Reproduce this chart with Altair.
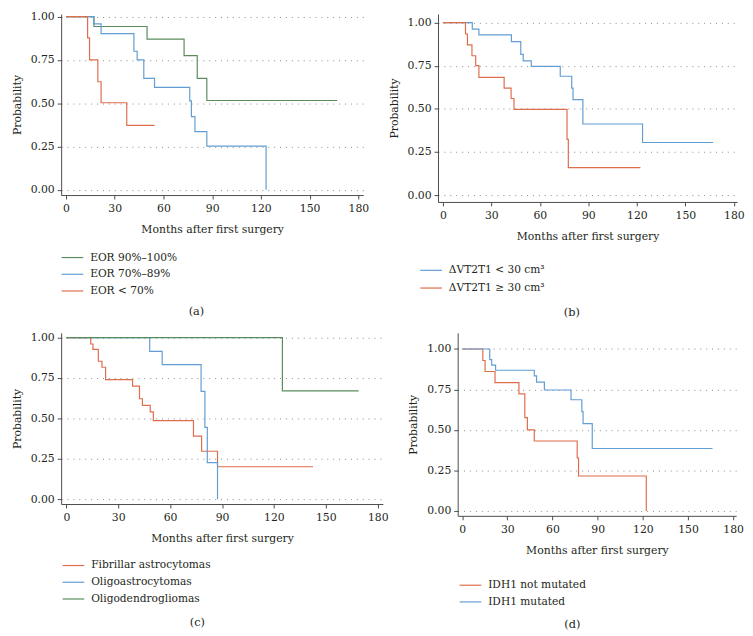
import altair as alt
import pandas as pd

FONT = "DejaVu Serif"
GREEN = "#5a8c5c"
BLUE = "#629dd3"
ORANGE = "#de6d4c"

X_TICKS = [0, 30, 60, 90, 120, 150, 180]
Y_TICKS = [0, 0.25, 0.5, 0.75, 1.0]

# ---- Panel (a): extent of resection ----
a_labels = ["EOR 90%–100%", "EOR 70%–89%", "EOR < 70%"]
a_t_high = [0, 17.2, 49.9, 72.7, 80.8, 86.7, 167.0]
a_s_high = [1.0, 0.943, 0.870, 0.775, 0.643, 0.516, 0.516]
a_t_mid = [0, 17.2, 21.6, 41.8, 43.8, 47.9, 54.5, 76.2, 77.2, 79.4, 86.7, 123.2]
a_s_mid = [1.0, 0.958, 0.902, 0.800, 0.750, 0.643, 0.592, 0.514, 0.423, 0.336, 0.253, 0.0]
a_t_low = [0, 13.3, 14.5, 19.6, 21.6, 37.4, 54.5]
a_s_low = [1.0, 0.877, 0.750, 0.624, 0.503, 0.372, 0.372]

# ---- Panel (b): residual volume ----
b_labels = ["ΔVT2T1 < 30 cm³", "ΔVT2T1 ≥ 30 cm³"]
b_t_small = [0, 18.2, 22.3, 42.4, 48.2, 49.7, 54.7, 72.6, 79.7, 80.5, 86.6, 123.5, 167.2]
b_s_small = [1.0, 0.962, 0.929, 0.890, 0.816, 0.778, 0.746, 0.689, 0.620, 0.554, 0.412, 0.305, 0.305]
b_t_large = [0, 14.0, 15.2, 18.0, 20.3, 22.3, 37.9, 42.2, 44.0, 76.8, 77.6, 122.2]
b_s_large = [1.0, 0.934, 0.871, 0.808, 0.751, 0.683, 0.620, 0.560, 0.497, 0.323, 0.159, 0.159]

# ---- Panel (c): histology ----
c_labels = ["Fibrillar astrocytomas", "Oligoastrocytomas", "Oligodendrogliomas"]
c_t_fib = [0, 14.1, 15.4, 18.5, 20.6, 22.7, 38.3, 42.3, 44.0, 48.5, 50.3, 73.5, 78.2, 87.4, 142.6]
c_s_fib = [1.0, 0.961, 0.927, 0.854, 0.817, 0.740, 0.700, 0.622, 0.581, 0.541, 0.486, 0.390, 0.297, 0.201, 0.201]
c_t_oa = [0, 48.2, 55.4, 77.9, 80.1, 81.5, 87.4]
c_s_oa = [1.0, 0.915, 0.833, 0.667, 0.445, 0.226, 0.0]
c_t_od = [0, 124.9, 169.0]
c_s_od = [1.0, 0.671, 0.671]

# ---- Panel (d): IDH1 status ----
d_labels = ["IDH1 not mutated", "IDH1 mutated"]
d_t_wt = [0, 13.7, 15.2, 21.8, 37.7, 41.6, 43.3, 47.9, 76.4, 77.3, 122.3]
d_s_wt = [1.0, 0.929, 0.861, 0.792, 0.723, 0.576, 0.501, 0.432, 0.327, 0.216, 0.0]
d_t_mut = [0, 18.3, 19.6, 22.2, 47.9, 49.4, 54.6, 72.3, 79.5, 80.3, 86.4, 166.3]
d_s_mut = [1.0, 0.935, 0.901, 0.869, 0.834, 0.796, 0.747, 0.687, 0.614, 0.539, 0.386, 0.386]


def frame(series):
    rows = []
    for order, (label, ts, ss) in enumerate(series):
        for t, s in zip(ts, ss):
            rows.append({"t": t, "s": s, "g": label, "o": order})
    return pd.DataFrame(rows)


LEG_PATH = "M-2,0H2"


def panel(series, colors, w, h, xdom, ydom, caption, lx, ly, rowpad, cap_offset, cap_dx):
    df = frame(series)
    labels = [s[0] for s in series]
    chart = (
        alt.Chart(df)
        .mark_line(interpolate="step-after", strokeWidth=1.2)
        .encode(
            x=alt.X(
                "t:Q",
                scale=alt.Scale(domain=xdom, nice=False, zero=False),
                axis=alt.Axis(values=X_TICKS, title="Months after first surgery", grid=False),
            ),
            y=alt.Y(
                "s:Q",
                scale=alt.Scale(domain=ydom, nice=False, zero=False),
                axis=alt.Axis(values=Y_TICKS, format=".2f", title="Probability", grid=True),
            ),
            color=alt.Color(
                "g:N",
                scale=alt.Scale(domain=labels, range=colors),
                legend=alt.Legend(
                    title=None,
                    orient="none",
                    legendX=lx,
                    legendY=ly,
                    direction="vertical",
                    symbolType=LEG_PATH,
                    symbolSize=121,
                    symbolStrokeWidth=1.2,
                    labelOffset=11.5,
                    rowPadding=rowpad,
                    padding=0,
                ),
            ),
            detail="o:N",
        )
        .properties(
            width=w,
            height=h,
            title=alt.TitleParams(
                caption, orient="bottom", offset=cap_offset, dx=cap_dx,
                fontSize=11.5, font=FONT, fontWeight="normal", color="#231f20",
            ),
        )
    )
    return chart


pa = panel(
    [(a_labels[0], a_t_high, a_s_high), (a_labels[1], a_t_mid, a_s_mid), (a_labels[2], a_t_low, a_s_low)],
    [GREEN, BLUE, ORANGE], 307, 184, [-3, 183], [-0.03, 1.015], "(a)", 5, 241, 5, 10, -16,
)
pb = panel(
    [(b_labels[0], b_t_small, b_s_small), (b_labels[1], b_t_large, b_s_large)],
    [BLUE, ORANGE], 304, 191, [-3, 182], [-0.04, 1.05], "(b)", -13.5, 254, 6, 14, -16,
)
pc = panel(
    [(c_labels[0], c_t_fib, c_s_fib), (c_labels[1], c_t_oa, c_s_oa), (c_labels[2], c_t_od, c_s_od)],
    [ORANGE, BLUE, GREEN], 327, 174, [-3, 183], [-0.03, 1.03], "(c)", 6, 230, 5, 13, -25,
)
pd_ = panel(
    [(d_labels[0], d_t_wt, d_s_wt), (d_labels[1], d_t_mut, d_s_mut)],
    [ORANGE, BLUE], 283, 186, [-3, 182], [-0.03, 1.10], "(d)", 6.5, 250, 5, 12, -25,
)

row1 = alt.hconcat(pa, pb, spacing=19).resolve_scale(color="independent")
row2 = alt.hconcat(pc, pd_, spacing=19).resolve_scale(color="independent")
chart = (
    alt.vconcat(row1, row2, spacing=12)
    .resolve_scale(color="independent")
    .properties(padding={"left": 3, "top": -3, "right": 0, "bottom": 0}, background="white")
    .configure_view(stroke=None)
    .configure_axis(
        labelFont=FONT,
        titleFont=FONT,
        labelFontSize=11,
        titleFontSize=11,
        titleFontWeight="normal",
        labelColor="#231f20",
        titleColor="#231f20",
        domainColor="#4a4a4a",
        tickColor="#4a4a4a",
        domainWidth=1,
        tickSize=4,
        gridColor="#8a8a8a",
        gridDash=[1, 5],
        gridWidth=1,
    )
    .configure_axisY(labelPadding=3, titlePadding=8)
    .configure_axisX(labelPadding=4, titlePadding=10)
    .configure_legend(labelFont=FONT, labelFontSize=10.8, labelColor="#231f20")
)

chart.save("out.html", embed_options={"renderer": "svg", "actions": False})
